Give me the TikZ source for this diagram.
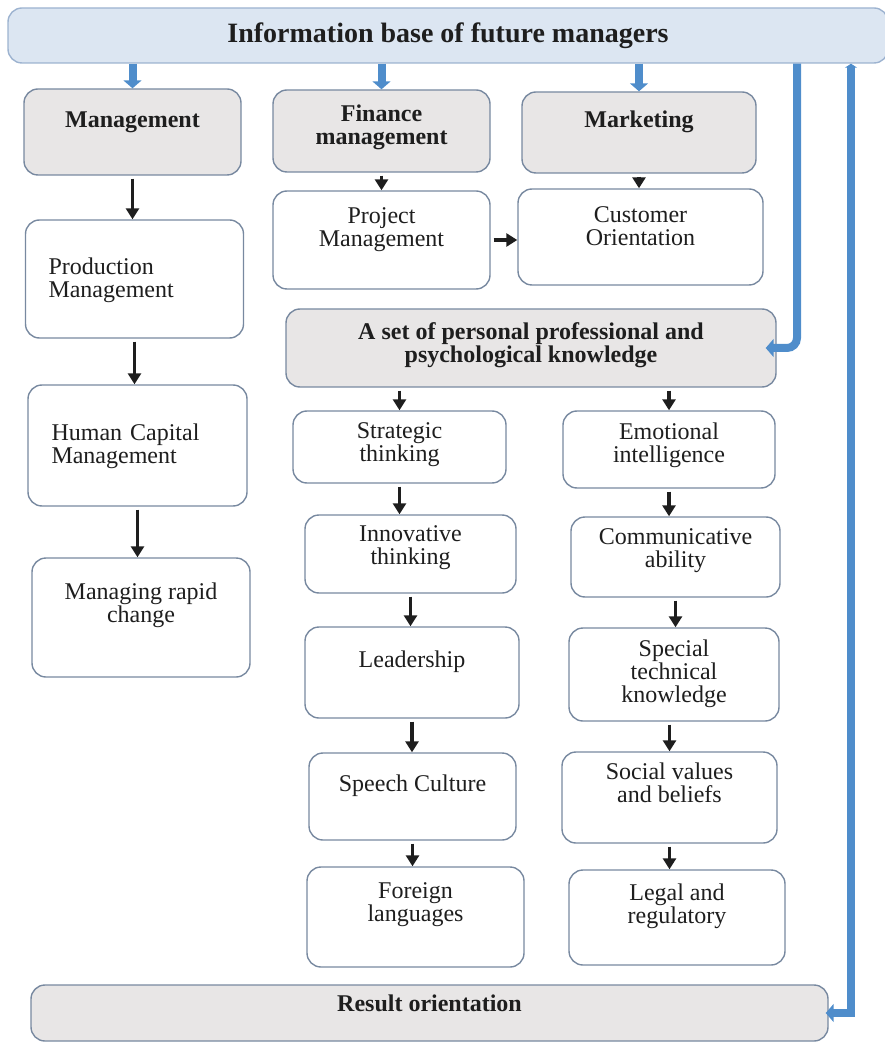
\documentclass[tikz,border=0pt]{standalone}
\usepackage{fontspec}
\setmainfont{Liberation Serif}
\usepackage{xcolor}
\usepackage{tikz}
\usetikzlibrary{arrows.meta}
\definecolor{customBlue}{HTML}{4F8DCB}
\definecolor{customPaleBlue}{HTML}{DCE6F2}
\definecolor{customPaleEdge}{HTML}{9DB3D0}
\definecolor{customEdge}{HTML}{7889A0}
\definecolor{customGrey}{HTML}{E8E6E6}
\definecolor{customText}{HTML}{1E1E1E}

\begin{document}
\begin{tikzpicture} [
    x=0.5pt, y=-0.5pt,
    every node/.style={font=\fontsize{12}{11.5}\selectfont, text=customText},
    box/.style={rectangle, rounded corners=7pt, draw=customEdge, line width=0.7pt, inner sep=1.5pt, align=center},
    whiteBox/.style={box, fill=white},
    greyBox/.style={box, fill=customGrey, font=\bfseries\fontsize{12}{11.5}\selectfont},
    boxSize/.style 2 args={minimum width=#1, minimum height=#2},
    lift/.style={text depth=#1},
    leftText/.style={align=left, text width=86pt, inner xsep=11.5pt},
    arrow/.style={line width=1.6pt, color=customText, shorten <=1.5pt, -{Triangle[width=6.5pt, length=5.5pt]}},
    blueArrow/.style={line width=4pt, color=customBlue, -{Triangle[width=9pt, length=4pt]}}
]
    \useasboundingbox (0, 0) rectangle (884, 1042);
    \coordinate (loopL) at (797, 0);
    \coordinate (loopR) at (851, 0);

    % top row
    \node[box, fill=customPaleBlue, draw=customPaleEdge, boxSize={440pt}{27.5pt}, font=\bfseries\fontsize{14}{16}\selectfont] (info) at (448, 35.5) {Information base of future managers};
    \node[greyBox, boxSize={108.5pt}{43pt}, lift=12.2pt] (mgmt) at (132.5, 132) {Management};
    \node[greyBox, boxSize={108.5pt}{41pt}, lift=6.7pt] (finance) at (381.5, 131) {Finance\\management};
    \node[greyBox, boxSize={117pt}{40.5pt}, lift=13.7pt] (marketing) at (639, 132.5) {Marketing};
    \node[whiteBox, boxSize={108.5pt}{49pt}, lift=12.7pt] (project) at (381.5, 240) {Project\\Management};
    \node[whiteBox, boxSize={122.5pt}{48pt}, lift=10.7pt] (customer) at (640.5, 237) {Customer\\Orientation};

    % left column
    \node[whiteBox, leftText, boxSize={108.5pt}{59pt}, lift=12.7pt] (prod) at (134.5, 279) {Production\\Management};
    \node[whiteBox, leftText, boxSize={109.5pt}{60.5pt}, lift=13.2pt] (human) at (137.5, 445.5) {Human Capital\\Management};
    \node[whiteBox, boxSize={109pt}{59.5pt}, lift=15.2pt] (rapid) at (141, 617.5) {Managing rapid\\change};

    % personal knowledge
    \node[greyBox, boxSize={245pt}{39pt}, lift=5.7pt] (set) at (531, 348) {A set of personal professional and\\psychological knowledge};
    \node[whiteBox, boxSize={106.5pt}{36pt}, lift=4.7pt] (strategic) at (399.5, 447) {Strategic\\thinking};
    \node[whiteBox, boxSize={105.5pt}{39pt}, lift=8.7pt] (innovative) at (410.5, 554) {Innovative\\thinking};
    \node[whiteBox, boxSize={107pt}{45.5pt}, lift=13.7pt] (leadership) at (412, 672.5) {Leadership};
    \node[whiteBox, boxSize={103.5pt}{43.5pt}, lift=13.7pt] (speech) at (412.5, 796.5) {Speech Culture};
    \node[whiteBox, boxSize={108.5pt}{50pt}, lift=14.7pt] (foreign) at (415.5, 917) {Foreign\\languages};
    \node[whiteBox, boxSize={106pt}{38.5pt}, lift=7.2pt] (emotional) at (669, 449.5) {Emotional\\intelligence};
    \node[whiteBox, boxSize={104.5pt}{40pt}, lift=8.7pt] (communicative) at (675.5, 557) {Communicative\\ability};
    \node[whiteBox, boxSize={105pt}{46.5pt}, lift=3.7pt] (special) at (674, 674.5) {Special\\technical\\knowledge};
    \node[whiteBox, boxSize={107.5pt}{45.5pt}, lift=15.2pt] (social) at (669.5, 797.5) {Social values\\and beliefs};
    \node[whiteBox, boxSize={108pt}{47.5pt}, lift=14.2pt] (legal) at (677, 917.5) {Legal and\\regulatory};

    \node[greyBox, boxSize={398.5pt}{28pt}, lift=10.2pt] (result) at (429.5, 1013) {Result orientation};

    % blue links
    \draw [blueArrow] (info.south -| mgmt.north) -- (mgmt.north);
    \draw [blueArrow] (info.south -| finance.north) -- (finance.north);
    \draw [blueArrow] (info.south -| marketing.north) -- (marketing.north);
    \draw [blueArrow, rounded corners=5pt] (info.south -| loopL) |- ([xshift=-5.5pt]set.east);
    \draw [blueArrow, {Triangle[width=6pt, length=2pt]}-{Triangle[width=9pt, length=4pt]}] (info.south -| loopR) |- ([xshift=-1.5pt]result.east);

    \draw [arrow] (mgmt.south) -- (mgmt.south |- prod.north);
    \draw [arrow] (prod.south) -- (prod.south |- human.north);
    \draw [arrow] (human.south) -- (human.south |- rapid.north);
    \draw [arrow] (finance.south) -- (finance.south |- project.north);
    \draw [arrow] (marketing.south) -- (marketing.south |- customer.north);
    \draw [arrow] (project.east) -- (project.east -| customer.west);
    \draw [arrow] (set.south -| strategic.north) -- (strategic.north);
    \draw [arrow] (set.south -| emotional.north) -- (emotional.north);
    \draw [arrow] (strategic.south) -- (strategic.south |- innovative.north);
    \draw [arrow] (innovative.south) -- (innovative.south |- leadership.north);
    \draw [arrow] (leadership.south) -- (leadership.south |- speech.north);
    \draw [arrow] (speech.south) -- (speech.south |- foreign.north);
    \draw [arrow] (emotional.south) -- (emotional.south |- communicative.north);
    \draw [arrow] (communicative.south) -- (communicative.south |- special.north);
    \draw [arrow] (special.south -| social.north) -- (social.north);
    \draw [arrow] (social.south) -- (social.south |- legal.north);
\end{tikzpicture}
\end{document}
